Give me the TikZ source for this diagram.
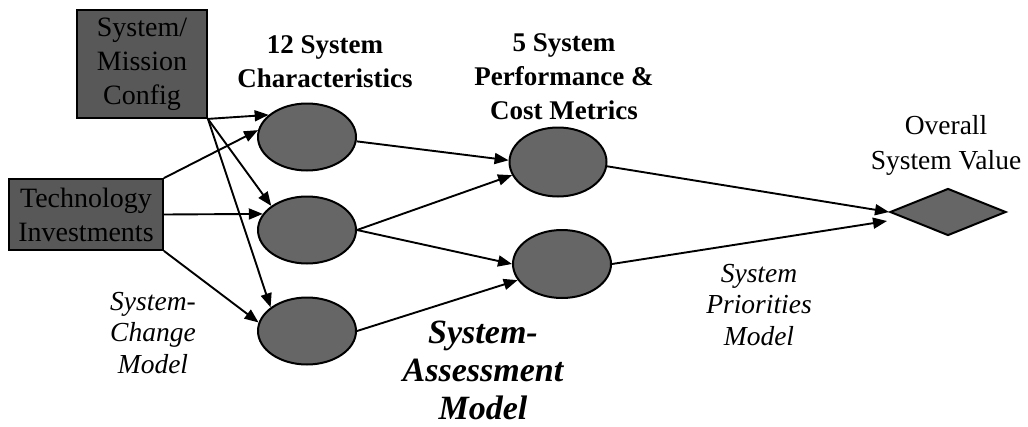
\documentclass[tikz,border=0pt]{standalone}
\usepackage{fontspec}
\setmainfont{Liberation Serif}
\usetikzlibrary{arrows.meta,shapes.geometric,calc}
\definecolor{boxgray}{RGB}{88,88,88}
\definecolor{ellgray}{RGB}{102,102,102}
\begin{document}
\begin{tikzpicture}[x=1pt,y=-1pt,
  box/.style={draw=black, line width=1.8pt, fill=boxgray, inner sep=0pt, align=center, font=\fontsize{28}{34}\selectfont},
  ell/.style={ellipse, draw=black, line width=2pt, fill=ellgray, minimum width=98pt, minimum height=67pt, inner sep=0pt},
  arr/.style={line width=1.9pt, -{Triangle[length=14pt,width=11pt]}},
  ttl/.style={align=center, font=\bfseries\fontsize{27}{34}\selectfont},
  lbl/.style={align=center, font=\itshape\fontsize{27.5}{31.5}\selectfont},
]
\useasboundingbox (0,0) rectangle (1028,426);
\fill[white] (0,0) rectangle (1028,426);
\node[box, minimum width=130pt, minimum height=108pt] (sm) at (142,64) {\raisebox{-3pt}{\begin{tabular}{@{}c@{}}System/\\Mission\\Config\end{tabular}}};
\node[box, minimum width=154pt, minimum height=71pt] (tech) at (86,214.5) {Technology\\Investments};
\node[ell] (e1) at (307,137) {};
\node[ell] (e2) at (307,230) {};
\node[ell] (e3) at (307,331) {};
\node[ell, minimum width=97pt, minimum height=69pt] (r1) at (558,162) {};
\node[ell, minimum width=98pt, minimum height=68pt] (r2) at (562,264) {};
\node[diamond, draw=black, line width=2pt, fill=ellgray, minimum width=116pt, minimum height=47pt, inner sep=0pt] (d) at (948,212) {};
\node[ttl] (t1) at (325,62) {12 System\\Characteristics};
\node[ttl] (t2) at (564,77) {5 System\\Performance \&\\Cost Metrics};
\node[align=center, font=\fontsize{27.5}{35}\selectfont] (t3) at (946,145) {Overall\\System Value};
\node[lbl] (l1) at (153,333) {System-\\Change\\Model};
\node[lbl] (l2) at (759,305) {System\\Priorities\\Model};
\node[align=center, font=\bfseries\itshape\fontsize{34}{38}\selectfont] (l3) at (483,370) {System-\\Assessment\\Model};
\draw[arr] (sm.south east) -- (e1.150);
\draw[arr] (sm.south east) -- (e2.146);
\draw[arr] (sm.south east) -- (e3.147);
\draw[arr] (tech.north east) -- (e1.172);
\draw[arr] (tech.east) -- (e2.160);
\draw[arr] (tech.south east) -- (e3.170);
\draw[arr] (e1.-5) -- (r1.178);
\draw[arr] (e2.east) -- (r1.196);
\draw[arr] (e2.east) -- (r2.180);
\draw[arr] (e3.east) -- (r2.200);
\draw[arr] (r1.-5) -- (d.west);
\coordinate (dlow) at ($(d.west)+(-2,9)$);
\draw[arr] (r2.east) -- (dlow);
\end{tikzpicture}
\end{document}
